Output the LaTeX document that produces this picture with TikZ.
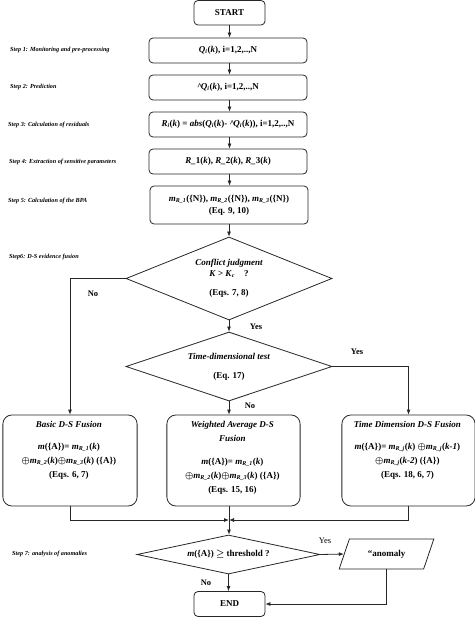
\documentclass[tikz,border=0pt]{standalone}
\usepackage{fontspec}
\setmainfont{Liberation Serif}
\usetikzlibrary{positioning,arrows.meta,shapes.geometric}
\newcommand{\mR}[1]{\textit{m}\textsubscript{\textit{R\_#1}}}
\newcommand{\mA}{\textit{m}(\{A\})}
\tikzset{
    stepbox/.style={draw=black!85,line width=0.8pt,rounded corners=4pt,
        minimum width=158pt,minimum height=25pt,inner sep=2pt,align=center,
        font=\bfseries\fontsize{9}{12}\selectfont},
    fusionbox/.style={draw=black!85,line width=0.8pt,rounded corners=9pt,
        minimum width=131pt,minimum height=91pt,inner sep=2pt,align=center,
        font=\bfseries\boldmath\fontsize{9}{14}\selectfont},
    decision/.style={draw=black!85,line width=0.8pt,diamond,inner sep=0pt,
        align=center,font=\bfseries\boldmath\fontsize{9}{11}\selectfont},
    databox/.style={draw=black!85,line width=0.8pt,trapezium,
        trapezium left angle=62,trapezium right angle=118,trapezium stretches=true,
        minimum width=95pt,minimum height=30pt,inner sep=1pt,
        font=\bfseries\fontsize{9}{11}\selectfont},
    steplabel/.style={anchor=west,inner sep=0pt,
        font=\bfseries\itshape\fontsize{6.2}{8}\selectfont},
    answer/.style={inner sep=0pt,font=\bfseries\fontsize{8.5}{10}\selectfont},
    arrow/.style={-{Latex[length=5pt,width=4pt]},draw=black!85,line width=0.8pt}
}
\begin{document}
\begin{tikzpicture}[x=1pt,y=-1pt]
    \useasboundingbox (0,0) rectangle (474,617);
    % main column
    \node[stepbox,minimum width=71pt,minimum height=24.5pt] (start) at (229.5,12.75) {START};
    \node[stepbox] (measure) at (228,50.5)
        {\textit{Q}\textsubscript{\textit{i}}(\textit{k}), i=1,2,..,N};
    \node[stepbox] (predict) at (228,87.5)
        {\^{}\kern-1.5pt\textit{Q}\textsubscript{\textit{i}}(\textit{k}), i=1,2,..,N};
    \node[stepbox] (residual) at (228,124.5)
        {\textit{R}\textsubscript{\textit{i}}(\textit{k}) = \textit{abs}(\textit{Q}\textsubscript{\textit{i}}(\textit{k})-
         \^{}\kern-1.5pt\textit{Q}\textsubscript{\textit{i}}(\textit{k})), i=1,2,..,N};
    \node[stepbox] (sensitive) at (228,161.5)
        {\textit{R\_}1(\textit{k}), \textit{R\_}2(\textit{k}), \textit{R\_}3(\textit{k})};
    \node[stepbox,minimum height=38pt] (bpa) at (229,205)
        {\mR{1}(\{N\}), \mR{2}(\{N\}), \mR{3}(\{N\})\\(Eq. 9, 10)};
    \node[decision,aspect=2.48,minimum width=206pt,minimum height=83pt] (conflict) at (229,278.5)
        {\textit{Conflict judgment}\\\textit{K} > \textit{K}\textsubscript{\textit{c}}\quad?\\[8pt](Eqs. 7, 8)};
    \node[decision,aspect=2.99,minimum width=206pt,minimum height=69pt] (timetest) at (229,366.5)
        {\textit{Time-dimensional test}\\[8pt](Eq. 17)};
    % fusion boxes
    \node[fusionbox,minimum width=132pt] (basic) at (70,460.5) {
        \begin{minipage}[t][78pt][t]{128pt}
            \centering
            \textit{Basic D-S Fusion}\\[8pt]
            \mA= \mR{1}(\textit{k})\\
            $\oplus$\mR{2}(\textit{k})$\oplus$\mR{3}(\textit{k}) (\{A\})\\
            (Eqs. 6, 7)
        \end{minipage}
    };
    \node[fusionbox] (weighted) at (233.5,460.5) {
        \begin{minipage}[t][78pt][t]{127pt}
            \centering
            \textit{Weighted Average D-S}\\
            \textit{Fusion}\\[9pt]
            \mA= \mR{1}(\textit{k})\\
            $\oplus$\mR{2}(\textit{k})$\oplus$\mR{3}(\textit{k}) (\{A\})\\
            (Eqs. 15, 16)
        \end{minipage}
    };
    \node[fusionbox] (timefusion) at (408.5,460.5) {
        \begin{minipage}[t][78pt][t]{127pt}
            \centering
            \textit{Time Dimension D-S Fusion}\\[8pt]
            \mA= \mR{j}(\textit{k}) $\oplus$\mR{j}(\textit{k-1})\\
            $\oplus$\mR{j}(\textit{k-2}) (\{A\})\\
            (Eqs. 18, 6, 7)
        \end{minipage}
    };
    % anomaly analysis
    \coordinate (merge) at (229,520);
    \node[decision,aspect=4.7,minimum width=183pt,minimum height=39pt] (threshold) at (228.5,554.5)
        {\mA{} $\geq$ threshold ?};
    \node[databox] (anomaly) at (386.5,554) {``anomaly};
    \node[stepbox,minimum width=71pt,minimum height=25pt] (finish) at (229.5,604) {END};
    % step labels
    \node[steplabel] (lblone) at (10,50) {Step 1: Monitoring and pre-processing};
    \node[steplabel] (lbltwo) at (10,87.5) {Step 2: Prediction};
    \node[steplabel] (lblthree) at (8,124.5) {Step 3: Calculation of residuals};
    \node[steplabel] (lblfour) at (9,161.5) {Step 4: Extraction of sensitive parameters};
    \node[steplabel] (lblfive) at (8,201) {Step 5: Calculation of the BPA};
    \node[steplabel] (lblsix) at (9,257) {Step6: D-S evidence fusion};
    \node[steplabel] (lblseven) at (12,554) {Step 7: analysis of anomalies};
    % connectors
    \draw[arrow] (start.south) -- (start.south |- measure.north);
    \draw[arrow] (measure.south -| start.south) -- (start.south |- predict.north);
    \draw[arrow] (predict.south -| start.south) -- (start.south |- residual.north);
    \draw[arrow] (residual.south -| start.south) -- (start.south |- sensitive.north);
    \draw[arrow] (sensitive.south -| start.south) -- (start.south |- bpa.north);
    \draw[arrow] (bpa.south -| conflict.north) -- (conflict.north);
    \draw[arrow] (conflict.south) -- (timetest.north);
    \draw[arrow] (conflict.west) -| (basic.north);
    \draw[arrow] (timetest.east) -| (timefusion.north);
    \draw[arrow] (timetest.south) -- (timetest.south |- weighted.north);
    \draw[arrow] (basic.south) |- (merge);
    \draw[arrow] (timefusion.south) |- (merge);
    \draw[arrow] (weighted.south -| merge) -- (threshold.north -| merge);
    \draw[arrow] (threshold.east) -- (anomaly.west);
    \draw[arrow] (threshold.south) -- (finish.north -| threshold.south);
    \draw[arrow] (anomaly.south) |- (finish.east);
    % answers
    \node[answer] (nofirst) at (93,294) {No};
    \node[answer] (yesfirst) at (256,327) {Yes};
    \node[answer] (yessecond) at (357,352) {Yes};
    \node[answer] (nosecond) at (250,406) {No};
    \node[answer,font=\fontsize{8.5}{10}\selectfont] (yesthird) at (325,541) {Yes};
    \node[answer] (nothird) at (206,583) {No};
\end{tikzpicture}
\end{document}
